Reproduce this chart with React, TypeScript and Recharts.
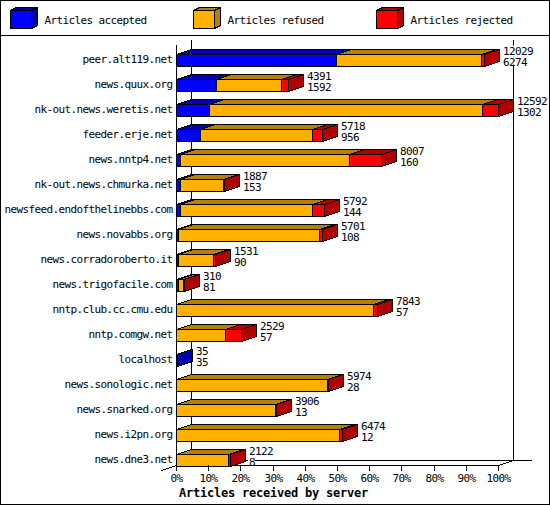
import React from 'react'
import { BarChart, Bar, XAxis, YAxis, Legend, LabelList } from 'recharts'

const servers = [
  'peer.alt119.net', 'news.quux.org', 'nk-out.news.weretis.net', 'feeder.erje.net', 'news.nntp4.net',
  'nk-out.news.chmurka.net', 'newsfeed.endofthelinebbs.com', 'news.novabbs.org', 'news.corradoroberto.it',
  'news.trigofacile.com', 'nntp.club.cc.cmu.edu', 'nntp.comgw.net', 'localhost', 'news.sonologic.net',
  'news.snarked.org', 'news.i2pn.org', 'news.dne3.net',
]
// all three, in % of the x axis
const accepted = [49.8, 12.5, 10.3, 7.5, 1.3, 1.1, 1.1, 0.6, 0.6, 0.5, 0.1, 0, 0.28, 0, 0, 0, 0]
const refused = [45.0, 20.2, 84.7, 34.8, 52.4, 13.6, 41.2, 43.8, 10.9, 1.6, 61.0, 15.2, 0, 46.9, 30.9, 50.5, 16.1]
const rejected = [0.7, 2.2, 5.0, 3.1, 9.9, 0.3, 3.7, 0.9, 0.7, 0.4, 1.2, 4.9, 0, 0.3, 0.1, 0.9, 0.75]
const topLabels = [12029, 4391, 12592, 5718, 8007, 1887, 5792, 5701, 1531, 310, 7843, 2529, 35, 5974, 3906, 6474, 2122]
const bottomLabels = [6274, 1592, 1302, 956, 160, 153, 144, 108, 90, 81, 57, 57, 35, 28, 13, 12, 8]
const xTicks = [0, 10, 20, 30, 40, 50, 60, 70, 80, 90, 100]

const data = servers.map((name, i) => ({
  name,
  accepted: accepted[i],
  refused: refused[i],
  rejected: rejected[i],
}))

const MONO = '"DejaVu Sans Mono", monospace'
const textStyle = { fontFamily: MONO, fontSize: 11, letterSpacing: -0.62, fill: '#000' }
const DX = 15
const DY = 5

const darker: Record<string, string> = { '#0000ff': '#0000b0', '#ffb000': '#b88000', '#ff0000': '#b00000' }
const snap = (v: number) => Math.floor(v) + 0.5

const Box3D = (props: any) => {
  const { x, y, width, height, fill } = props
  if (width <= 0) return null
  const x0 = snap(x)
  const x1 = snap(x + width)
  const y0 = snap(y)
  const y1 = y0 + Math.round(height)
  const side = darker[fill]
  return (
    <g stroke="#000" strokeWidth={1} shapeRendering="crispEdges">
      <polygon fill={side} points={`${x0},${y0} ${x0 + DX},${y0 - DY} ${x1 + DX},${y0 - DY} ${x1},${y0}`} />
      <polygon fill={side} points={`${x1},${y0} ${x1 + DX},${y0 - DY} ${x1 + DX},${y1 - DY} ${x1},${y1}`} />
      <rect x={x0} y={y0} width={x1 - x0} height={y1 - y0} fill={fill} />
    </g>
  )
}

const EndLabels = (props: any) => {
  const { x, y, width, index } = props
  const tx = snap(x + width) + DX + 3.5
  const by = snap(y)
  const top = String(topLabels[index])
  const bottom = String(bottomLabels[index])
  return (
    <g>
      <rect x={tx - 1} y={by - 9} width={top.length * 6 + 1} height={11} fill="#fff" />
      <rect x={tx - 1} y={by + 2} width={bottom.length * 6 + 1} height={8} fill="#fff" />
      <text x={tx} y={by - 3.2} dominantBaseline="central" style={textStyle}>{top}</text>
      <text x={tx} y={by + 7.8} dominantBaseline="central" style={textStyle}>{bottom}</text>
    </g>
  )
}

const PercentTick = (props: any) => {
  const { x, payload } = props
  const px = snap(x)
  return (
    <g>
      <line x1={px} x2={px} y1={465} y2={471} stroke="#000" shapeRendering="crispEdges" />
      <text x={px} y={478} textAnchor="middle" dominantBaseline="central" style={textStyle}>{payload.value}%</text>
    </g>
  )
}

const legendX = [10.5, 193.5, 376.5]

const LegendBoxes = ({ payload }: any) => (
  <svg width={550} height={35} style={{ display: 'block' }}>
    {(payload || []).map((item: any, i: number) => {
      const x = legendX[i]
      const w = 21
      const top = 10.5
      const bottom = 28.5
      return (
        <g key={item.value}>
          <g stroke="#000" shapeRendering="crispEdges">
            <polygon fill={darker[item.color]} points={`${x},${top} ${x + 6},${top - 3} ${x + w + 6},${top - 3} ${x + w},${top}`} />
            <polygon fill={darker[item.color]} points={`${x + w},${top} ${x + w + 6},${top - 3} ${x + w + 6},${bottom - 3} ${x + w},${bottom}`} />
            <rect x={x} y={top} width={w} height={bottom - top} fill={item.color} />
          </g>
          <text x={x + 34} y={20} dominantBaseline="central" style={textStyle}>{item.value}</text>
        </g>
      )
    })}
  </svg>
)

// frame and the walls of the 3d box, sits under the chart
const Backdrop = () => (
  <svg width={550} height={505} style={{ position: 'absolute', left: 0, top: 0 }} shapeRendering="crispEdges">
    <rect x={0.5} y={0.5} width={549} height={504} fill="#fff" stroke="#000" />
    <line x1={0} x2={550} y1={35.5} y2={35.5} stroke="#000" />
    <g stroke="#000" fill="none">
      <line x1={176.5} x2={176.5} y1={45} y2={471} />
      <line x1={191.5} x2={191.5} y1={40} y2={461} />
      <line x1={513.5} x2={513.5} y1={40} y2={461} />
      <line x1={191.5} x2={532} y1={460.5} y2={460.5} />
      <line x1={176.5} x2={498.5} y1={465.5} y2={465.5} />
      <line x1={161.5} x2={176.5} y1={470.5} y2={465.5} />
      <line x1={498.5} x2={513.5} y1={465.5} y2={460.5} />
    </g>
  </svg>
)

export default function App() {
  return (
    <div style={{ position: 'absolute', left: 0, top: 0, width: 550, height: 505 }}>
      <Backdrop />
      <div style={{ position: 'absolute', left: 0, top: 0 }}>
        <BarChart
          layout="vertical"
          width={550}
          height={505}
          data={data}
          barSize={12}
          margin={{ top: 12, right: 51.5, bottom: 0, left: 0 }}
        >
          <XAxis
            type="number"
            domain={[0, 100]}
            ticks={xTicks}
            interval={0}
            height={33}
            axisLine={false}
            tickLine={false}
            tick={<PercentTick />}
            label={{
              value: 'Articles received by server',
              position: 'bottom',
              offset: -17,
              dx: -64,
              style: { fontFamily: MONO, fontSize: 12, fontWeight: 700, letterSpacing: -0.22, fill: '#000' },
            }}
          />
          <YAxis
            type="category"
            dataKey="name"
            width={176.5}
            axisLine={false}
            tickLine={false}
            tickSize={0}
            tickMargin={4}
            interval={0}
            tick={textStyle}
          />
          <Legend
            verticalAlign="top"
            content={<LegendBoxes />}
            wrapperStyle={{ position: 'absolute', left: 0, top: 0, width: 550, height: 35 }}
          />
          <Bar dataKey="accepted" name="Articles accepted" stackId="a" fill="#0000ff" shape={<Box3D />} isAnimationActive={false} />
          <Bar dataKey="refused" name="Articles refused" stackId="a" fill="#ffb000" shape={<Box3D />} isAnimationActive={false} />
          <Bar dataKey="rejected" name="Articles rejected" stackId="a" fill="#ff0000" shape={<Box3D />} isAnimationActive={false}>
            <LabelList dataKey="rejected" content={<EndLabels />} />
          </Bar>
        </BarChart>
      </div>
    </div>
  )
}
